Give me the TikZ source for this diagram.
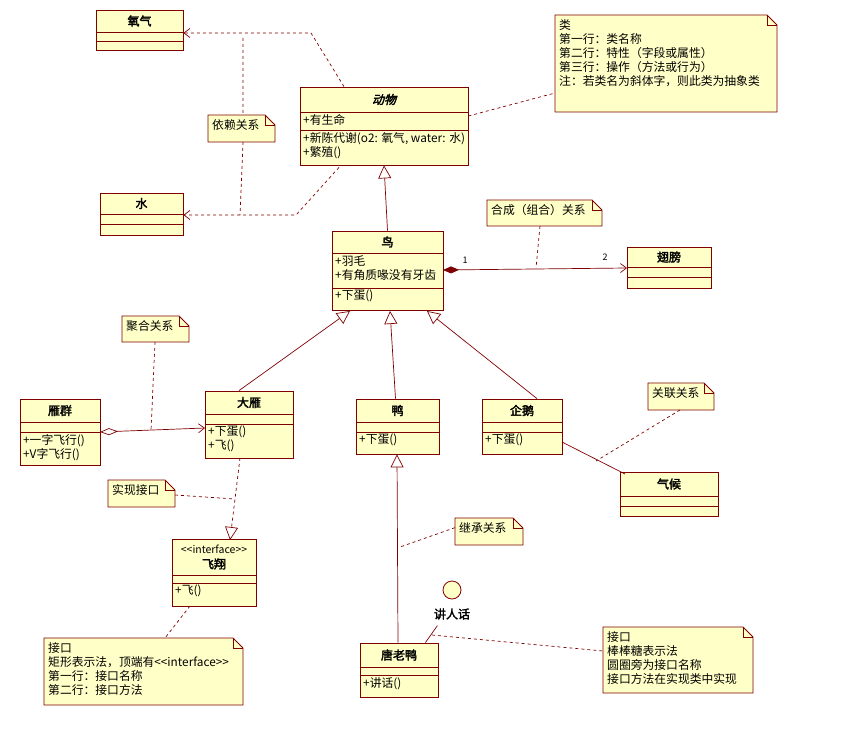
\documentclass[tikz,border=0pt]{standalone}
\usepackage{fontspec}
\setmainfont{Noto Sans CJK SC}[AutoFakeBold=2.5,AutoFakeSlant=0.25]
\usetikzlibrary{arrows.meta,calc}
\definecolor{brd}{RGB}{128,0,0}
\definecolor{fil}{RGB}{255,255,200}
\tikzset{
 cls/.style={draw=brd,fill=fil,line width=0.8pt,inner sep=0pt,rectangle},
 txt/.style={inner sep=0pt,anchor=north west,align=left,font=\fontsize{11.8}{14}\selectfont},
 ttl/.style={inner sep=0pt,font=\fontsize{12}{14}\selectfont\bfseries},
 con/.style={draw=brd,line width=0.7pt},
 dsh/.style={draw=brd,line width=0.7pt,dash pattern=on 3pt off 3pt},
 opn/.style={-{Straight Barb[length=6pt,width=9pt]}},
 gen/.style={-{Triangle[open,length=13pt,width=13pt,fill=white]}},
}
\newcommand\ucls[9]{%
 \pgfmathsetmacro\cw{#4-#2}\pgfmathsetmacro\ch{#5-#3}%
 \node[cls,minimum width=\cw pt,minimum height=\ch pt] (#1) at ({(#2+#4)/2},{(#3+#5)/2}) {};
 \draw[brd,line width=0.8pt] (#2,#6)--(#4,#6) (#2,#7)--(#4,#7);
 \node[ttl] at ({(#2+#4)/2},{(#3+#6)/2}) {#8};
 \node[txt] at (#2+3,#6+2) {#9};
}
\newcommand\uops[3]{\node[txt] at (#1+3,#2+2) {#3};}
\newcommand\unote[6]{%
 \draw[brd,fill=fil,line width=0.8pt] (#2,#3)--(#4-10,#3)--(#4,#3+10)--(#4,#5)--(#2,#5)--cycle;
 \draw[brd,line width=0.8pt] (#4-10,#3)--(#4-10,#3+10)--(#4,#3+10);
 \node[txt] (#1) at (#2+4,#3+4) {#6};
}
\begin{document}
\begin{tikzpicture}[x=1pt,y=-1pt]
\useasboundingbox (0,0) rectangle (864,735);
% classes
\ucls{o2}{96}{10}{183}{50}{32}{41}{氧气}{}
\ucls{water}{100}{193}{183}{235}{214}{224}{水}{}
\ucls{animal}{300}{87}{468}{165}{112}{130}{\textit{动物}}{+有生命}
\uops{300}{130}{+新陈代谢(o2: 氧气, water: 水)\\+繁殖()}
\ucls{bird}{332}{231}{443}{310}{253}{288}{鸟}{+羽毛\\+有角质喙没有牙齿}
\uops{332}{288}{+下蛋()}
\ucls{wing}{627}{247}{711}{288}{267}{277}{翅膀}{}
\ucls{flock}{20}{399}{100}{465}{422}{432}{雁群}{}
\uops{20}{432}{+一字飞行()\\+V字飞行()}
\ucls{goose}{205}{391}{293}{458}{414}{424}{大雁}{}
\uops{205}{424}{+下蛋()\\+飞()}
\ucls{duck}{356}{399}{439}{454}{422}{432}{鸭}{}
\uops{356}{432}{+下蛋()}
\ucls{peng}{482}{399}{562}{454}{422}{432}{企鹅}{}
\uops{482}{432}{+下蛋()}
\ucls{climate}{620}{472}{718}{516}{496}{506}{气候}{}
\ucls{fly}{172}{539}{256}{606}{575}{583}{}{}
\node[inner sep=0pt,font=\fontsize{10.5}{12}\selectfont] at (214,549) {<{}<interface>{}>};
\node[ttl] at (214,564) {飞翔};
\uops{172}{583}{+飞()}
\ucls{tang}{360}{643}{438}{697}{667}{675}{唐老鸭}{}
\uops{360}{675}{+讲话()}
% notes
\unote{nclass}{555}{15}{777}{112}{类\\第一行：类名称\\第二行：特性（字段或属性）\\第三行：操作（方法或行为）\\注：若类名为斜体字，则此类为抽象类}
\unote{ndep}{208}{115}{275}{142}{依赖关系}
\unote{ncomp}{487}{200}{602}{226}{合成（组合）关系}
\unote{nagg}{122}{316}{189}{342}{聚合关系}
\unote{nass}{648}{383}{714}{410}{关联关系}
\unote{nreal}{108}{480}{175}{507}{实现接口}
\unote{ninh}{455}{518}{523}{545}{继承关系}
\unote{nif}{44}{638}{243}{705}{接口\\矩形表示法，顶端有<{}<interface>{}>\\第一行：接口名称\\第二行：接口方法}
\unote{nlol}{603}{627}{753}{693}{接口\\棒棒糖表示法\\圆圈旁为接口名称\\接口方法在实现类中实现}
% lollipop
\node[circle,draw=brd,fill=fil,line width=0.8pt,minimum size=18pt,inner sep=0pt] (speak) at (452,590) {};
\node[ttl] (speakl) at (452,614) {讲人话};
\draw[con] (tang.north east)++(-13,0) -- ++(12,-17);
% dependencies
\coordinate (d1) at (311,33); \coordinate (d2) at (296,215);
\draw[dsh,opn] (animal.north)++(-40,0) -- (d1) -- (o2.east|-d1);
\draw[dsh,opn] (animal.south)++(-45,2) -- (d2) -- (water.east|-d2);
\draw[dsh] (243,38) -- (243,115) (243,142) -- (240,215);
\draw[dsh] (animal.east)++(0,-10) -- (555,93);
% generalizations
\draw[con,gen] (bird.north) -- (animal.south);
\draw[con,gen] (goose.north)++(-10,0) -- (350,311);
\draw[con,gen] (duck.north)++(-2,0) -- (390,311);
\draw[con,gen] (peng.north)++(15,0) -- (427,311);
\draw[con,gen] (tang.north)++(-1,0) -- (duck.south-|397,0);
% composition
\draw[con,{Diamond[length=16pt,width=7pt,fill=brd]}-{Straight Barb[length=6pt,width=9pt]}] (443,270) -- (627,268);
\node[font=\fontsize{9}{10}\selectfont,inner sep=0pt] at (465,260) {1};
\node[font=\fontsize{9}{10}\selectfont,inner sep=0pt] at (605,257) {2};
\draw[dsh] (540,226) -- (536,268);
% aggregation
\draw[con,{Diamond[open,length=18pt,width=7pt,fill=white]}-{Straight Barb[length=6pt,width=9pt]}] (100,432) -- (205,428);
\draw[dsh] (155,342) -- (151,430);
% association
\draw[con] (562,442) -- (625,474);
\draw[dsh] (680,410) -- (596,461);
% realization
\draw[dsh,gen] (240,458) -- (230,540);
\draw[dsh] (175,495) -- (235,499);
% notes anchors
\draw[dsh] (ninh.west)++(-4,0) -- (400,547);
\draw[dsh] (190,606) -- (165,638);
\draw[dsh] (432,635) -- (603,651);
\end{tikzpicture}
\end{document}
